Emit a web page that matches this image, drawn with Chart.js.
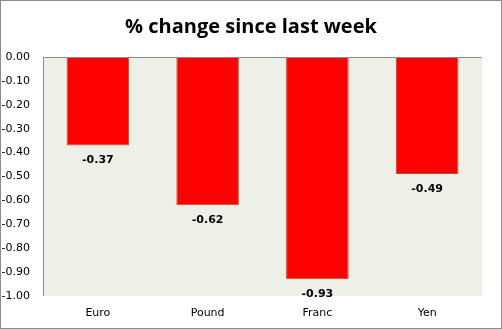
<!DOCTYPE html>
<html>
<head>
<meta charset="utf-8">
<script src="https://cdn.jsdelivr.net/npm/chart.js@4"></script>
<style>
  html, body { margin: 0; padding: 0; background: #fff; }
  #wrap { width: 500px; height: 327px; border: 1px solid #8c8c8c; position: relative; }
  canvas { display: block; }
</style>
</head>
<body>
<div id="wrap"><canvas id="c" width="500" height="327"></canvas></div>
<script>
const categories = ['Euro', 'Pound', 'Franc', 'Yen'];
const changes = [-0.37, -0.62, -0.93, -0.49];
const titleText = '% change since last week';

// Title, plot-area fill, zero line and value labels under each bar
const decor = {
  id: 'decor',
  beforeDatasetsDraw(chart) {
    const { ctx, chartArea: a } = chart;
    ctx.save();
    ctx.fillStyle = '#eef0e8';
    ctx.fillRect(a.left, a.top, a.right - a.left, a.bottom - a.top);
    ctx.fillStyle = '#000';
    ctx.font = 'bold 20px "Open Sans"';
    ctx.textAlign = 'center';
    ctx.textBaseline = 'middle';
    ctx.fillText(titleText, chart.width / 2, 26);
    ctx.restore();
  },
  afterDatasetsDraw(chart) {
    const { ctx, chartArea: a, scales } = chart;
    const y0 = Math.round(scales.y.getPixelForValue(0)) + 0.5;
    ctx.save();
    ctx.strokeStyle = '#8c8c8c';
    ctx.lineWidth = 1;
    ctx.beginPath();
    ctx.moveTo(a.left, y0);
    ctx.lineTo(a.right, y0);
    ctx.moveTo(a.left + 0.5, a.top);
    ctx.lineTo(a.left + 0.5, a.bottom);
    ctx.stroke();
    ctx.fillStyle = '#000';
    ctx.font = 'bold 11px "DejaVu Sans"';
    ctx.textAlign = 'center';
    ctx.textBaseline = 'middle';
    const meta = chart.getDatasetMeta(0);
    meta.data.forEach((bar, i) => {
      ctx.fillText(changes[i].toFixed(2), bar.x, bar.y + 15);
    });
    ctx.restore();
  }
};

new Chart(document.getElementById('c'), {
  type: 'bar',
  data: {
    labels: categories,
    datasets: [{
      data: changes,
      backgroundColor: '#ff0000',
      borderColor: '#b0502a',
      borderWidth: 1,
      borderSkipped: false,
      categoryPercentage: 1,
      barPercentage: 0.57
    }]
  },
  options: {
    responsive: false,
    animation: false,
    layout: { padding: { top: 56, right: 19, bottom: 0, left: 0 } },
    plugins: {
      legend: { display: false },
      tooltip: { enabled: false },
      title: { display: false }
    },
    scales: {
      x: {
        grid: { display: false, drawTicks: false },
        border: { display: false },
        ticks: { color: '#000', font: { family: '"DejaVu Sans"', size: 11 }, padding: 11 },
        afterFit(s) { s.height = 32; }
      },
      y: {
        min: -1,
        max: 0,
        grid: { display: false, drawTicks: false },
        border: { display: false },
        ticks: {
          stepSize: 0.1,
          color: '#000',
          font: { family: '"DejaVu Sans"', size: 11 },
          padding: 13,
          callback: v => v.toFixed(2)
        },
        afterFit(s) { s.width = 42; }
      }
    }
  },
  plugins: [decor]
});
</script>
</body>
</html>
